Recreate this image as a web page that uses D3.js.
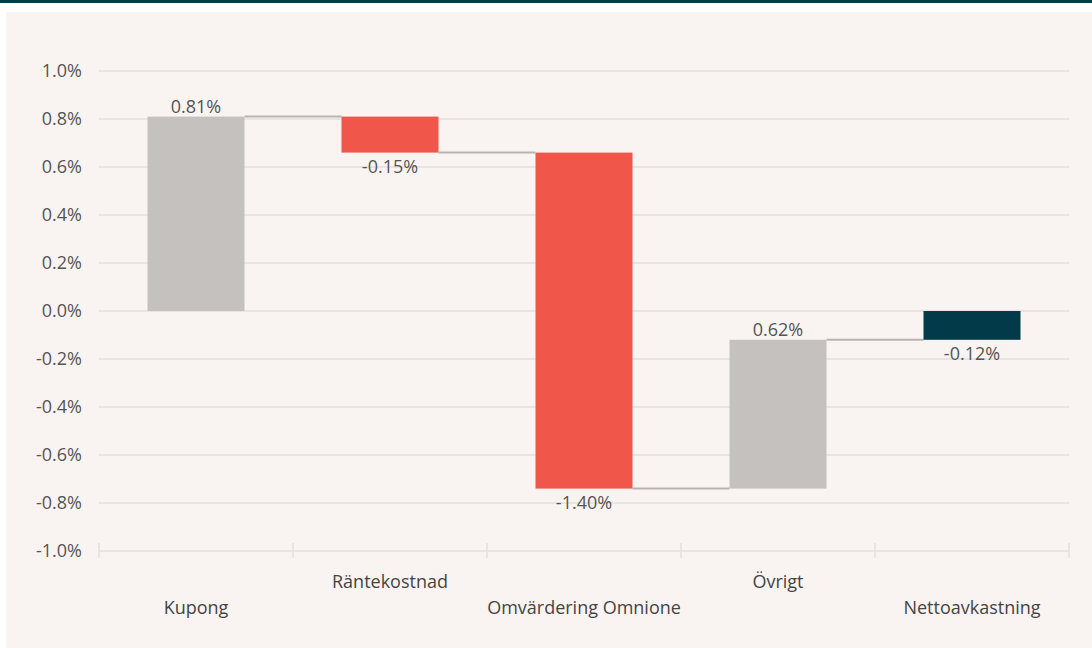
<!DOCTYPE html>
<html>
<head>
<meta charset="utf-8">
<script src="https://cdn.jsdelivr.net/npm/d3@7"></script>
<style>
  body { margin: 0; background: #fff; }
  svg { display: block; font-family: "Open Sans", "Noto Sans", sans-serif; }
</style>
</head>
<body>
<svg id="grafiek" width="1092" height="648"></svg>
<script>
// categorieen en waarden
const categorieen = ["Kupong", "Räntekostnad", "Omvärdering Omnione", "Övrigt", "Nettoavkastning"];
const waarden = [0.81, -0.15, -1.40, 0.62, -0.12];
const isTotaal = [false, false, false, false, true];
const yTicks = [1.0, 0.8, 0.6, 0.4, 0.2, 0.0, -0.2, -0.4, -0.6, -0.8, -1.0];

const svg = d3.select('#grafiek');
const fontGrootte = 18;

// gewone koppelteken ipv unicode minteken
const fmt1 = d => d3.format('.1f')(d).replace('\u2212', '-') + '%';
const fmt2 = d => d3.format('.2f')(d).replace('\u2212', '-') + '%';

// achtergrond
svg.append('rect').attr('x', 0).attr('y', 0).attr('width', 1092).attr('height', 3).attr('fill', '#023d4d');
svg.append('rect').attr('x', 6).attr('y', 12).attr('width', 1086).attr('height', 636).attr('fill', '#f9f4f1');

// begin en eind van elke balk uitrekenen
let bars = [];
let lopend = 0;
for (let i = 0; i < waarden.length; i++) {
    let start, eind;
    if (isTotaal[i]) {
        start = 0;
        eind = waarden[i];
    } else {
        start = lopend;
        eind = lopend + waarden[i];
        lopend = eind;
    }
    bars.push({ cat: categorieen[i], waarde: waarden[i], start: start, eind: eind, totaal: isTotaal[i], i: i });
}

// schalen
const x = d3.scaleBand()
    .domain(categorieen)
    .range([99, 1069])
    .padding(0);

const y = d3.scaleLinear()
    .domain([-1.0, 1.0])
    .range([551, 71]);

const barW = x.bandwidth() * 0.5;

// rasterlijnen
svg.append('g')
    .selectAll('line')
    .data(yTicks)
    .join('line')
    .attr('x1', 99)
    .attr('x2', 1069)
    .attr('y1', d => y(d))
    .attr('y2', d => y(d))
    .attr('stroke', '#e3dfdd')
    .attr('stroke-width', 1.5);

// y-as labels
svg.append('g')
    .selectAll('text')
    .data(yTicks)
    .join('text')
    .attr('x', 82)
    .attr('y', d => y(d))
    .attr('dy', '0.35em')
    .attr('text-anchor', 'end')
    .attr('font-size', fontGrootte)
    .attr('fill', '#555')
    .text(fmt1);

// x-as tickjes
const tickPos = categorieen.map(c => x(c)).concat([x.range()[1]]);
svg.append('g')
    .selectAll('line')
    .data(tickPos)
    .join('line')
    .attr('x1', d => d)
    .attr('x2', d => d)
    .attr('y1', y(-1.0) - 8)
    .attr('y2', y(-1.0) + 7)
    .attr('stroke', '#e3dfdd')
    .attr('stroke-width', 1.5);

// verbindingslijnen
svg.append('g')
    .selectAll('line')
    .data(bars.slice(0, -1))
    .join('line')
    .attr('x1', d => x(d.cat) + x.bandwidth() / 2 + barW / 2)
    .attr('x2', d => x(categorieen[d.i + 1]) + x.bandwidth() / 2 - barW / 2)
    .attr('y1', d => y(d.eind))
    .attr('y2', d => y(d.eind))
    .attr('stroke', '#b8b3b1')
    .attr('stroke-width', 2);

// kleuren
function kleur(d) {
    if (d.totaal) return '#033a4a';
    return d.waarde >= 0 ? '#c5c1bf' : '#f0574a';
}

// balken
svg.append('g')
    .selectAll('rect')
    .data(bars)
    .join('rect')
    .attr('x', d => x(d.cat) + x.bandwidth() / 2 - barW / 2)
    .attr('width', barW)
    .attr('y', d => y(Math.max(d.start, d.eind)))
    .attr('height', d => Math.abs(y(d.start) - y(d.eind)))
    .attr('fill', kleur);

// waardelabels
svg.append('g')
    .selectAll('text')
    .data(bars)
    .join('text')
    .attr('x', d => x(d.cat) + x.bandwidth() / 2)
    .attr('y', d => d.waarde >= 0 ? y(Math.max(d.start, d.eind)) - 4 : y(Math.min(d.start, d.eind)) + 20)
    .attr('text-anchor', 'middle')
    .attr('font-size', fontGrootte)
    .attr('fill', '#555')
    .text(d => fmt2(d.waarde));

// categorie labels (om en om verspringend)
svg.append('g')
    .selectAll('text')
    .data(categorieen)
    .join('text')
    .attr('x', d => x(d) + x.bandwidth() / 2)
    .attr('y', (d, i) => i % 2 === 1 ? 588 : 614)
    .attr('text-anchor', 'middle')
    .attr('font-size', fontGrootte)
    .attr('fill', '#444')
    .text(d => d);
</script>
</body>
</html>
